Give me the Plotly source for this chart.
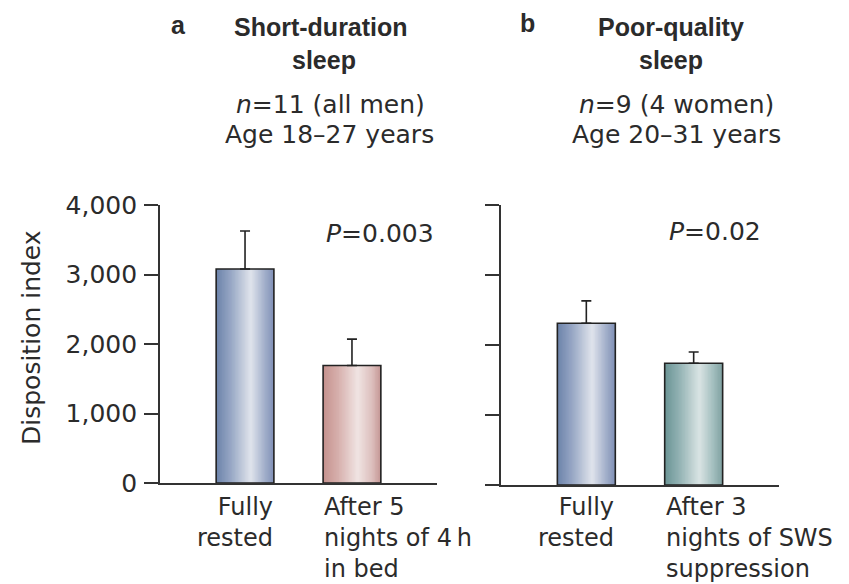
import plotly.graph_objects as go

# ---- data -------------------------------------------------------------
categories = [0, 1]

a_labels = ["Fully<br>rested", "After 5<br>nights of 4\u2009h<br>in bed"]
a_values = [3080, 1690]
a_errors = [545, 380]

b_labels = ["Fully<br>rested", "After 3<br>nights of SWS<br>suppression"]
b_values = [2310, 1740]
b_errors = [320, 160]

y_ticks = [0, 1000, 2000, 3000, 4000]

# ---- styling ----------------------------------------------------------
W, H = 849, 584
BAR_W = 0.54
N_SLICES = 40
TEXT = "#2b2b2b"
AXIS = "#333333"
FONT = "DejaVu Sans"
BOLD_FONT = "Liberation Sans"

# gradient stops (position across bar, colour) for each bar colour
BLUE = [(0.0, (108, 131, 170)), (0.25, (150, 166, 196)), (0.6, (224, 228, 236)),
        (0.85, (160, 173, 201)), (1.0, (128, 144, 182))]
PINK = [(0.0, (196, 145, 141)), (0.25, (214, 174, 171)), (0.6, (240, 228, 227)),
        (0.85, (220, 190, 188)), (1.0, (196, 150, 148))]
TEAL = [(0.0, (106, 148, 149)), (0.25, (146, 178, 179)), (0.6, (218, 228, 228)),
        (0.85, (160, 188, 188)), (1.0, (126, 160, 160))]


def px_x(p):
    return p / W


def px_y(p):
    return 1 - p / H


def grad(stops, t):
    for (t0, c0), (t1, c1) in zip(stops[:-1], stops[1:]):
        if t0 <= t <= t1:
            f = (t - t0) / (t1 - t0) if t1 > t0 else 0
            c = [round(a + (b - a) * f) for a, b in zip(c0, c1)]
            return "rgb({},{},{})".format(*c)
    c = stops[-1][1]
    return "rgb({},{},{})".format(*c)


fig = go.Figure()


def add_bar(cat, val, err, stops, xa, ya):
    # shaded fill: widest slice first, each narrower slice painted on top
    for i in range(N_SLICES - 1, -1, -1):
        t = (i + 0.5) / N_SLICES
        fig.add_trace(go.Bar(
            x=[cat], y=[val], xaxis=xa, yaxis=ya,
            offset=-BAR_W / 2, width=BAR_W * (i + 1) / N_SLICES,
            marker=dict(color=grad(stops, t), line=dict(width=0)),
            showlegend=False, hoverinfo="skip"))
    # outline + upper error bar
    fig.add_trace(go.Bar(
        x=[cat], y=[val], xaxis=xa, yaxis=ya,
        offset=-BAR_W / 2, width=BAR_W,
        marker=dict(color="rgba(0,0,0,0)", line=dict(color="#222222", width=1.6)),
        error_y=dict(type="data", array=[err], arrayminus=[0], symmetric=False,
                     color="#222222", thickness=1.6, width=5),
        showlegend=False, hoverinfo="skip"))


add_bar(categories[0], a_values[0], a_errors[0], BLUE, "x", "y")
add_bar(categories[1], a_values[1], a_errors[1], PINK, "x", "y")
add_bar(categories[0], b_values[0], b_errors[0], BLUE, "x2", "y2")
add_bar(categories[1], b_values[1], b_errors[1], TEAL, "x2", "y2")

xcommon = dict(range=[-0.795, 1.795], showgrid=False, zeroline=False,
               showline=True, linecolor=AXIS, linewidth=1.6, automargin=False,
               ticks="", showticklabels=False, fixedrange=True)
ycommon = dict(range=[0, 4000], tickvals=y_ticks, showgrid=False, zeroline=False,
               showline=True, linecolor=AXIS, linewidth=1.6, automargin=False,
               ticks="outside", ticklen=14, tickwidth=1.6, tickcolor=AXIS,
               fixedrange=True)

fig.update_layout(
    width=W, height=H,
    margin=dict(l=0, r=0, t=0, b=0, pad=0, autoexpand=False),
    paper_bgcolor="white", plot_bgcolor="white",
    barmode="overlay", showlegend=False,
    font=dict(family=FONT, size=25, color=TEXT),
    xaxis=dict(domain=[px_x(160), px_x(437)], anchor="y", **xcommon),
    yaxis=dict(domain=[px_y(483), px_y(205)], anchor="x",
               tickformat=",d", ticklabelstandoff=2,
               tickfont=dict(family=FONT, size=25, color=TEXT), **ycommon),
    xaxis2=dict(domain=[px_x(501), px_x(779)], anchor="y2", **xcommon),
    yaxis2=dict(domain=[px_y(485), px_y(205)], anchor="x2",
                showticklabels=False, **ycommon),
)

ann = []


def text(x, y, s, size=25, bold=False, xanchor="center", yanchor="middle",
         xref="paper", yref="paper", align="center", angle=0):
    ann.append(dict(
        x=x, y=y, xref=xref, yref=yref, text=s, showarrow=False,
        xanchor=xanchor, yanchor=yanchor, align=align, textangle=angle,
        borderpad=0,
        font=dict(family=BOLD_FONT if bold else FONT, size=size, color=TEXT),
    ))


# panel headers
text(px_x(178), px_y(25), "<b>a</b>", size=25, bold=True)
text(px_x(321), px_y(27), "<b>Short-duration</b>", bold=True)
text(px_x(324), px_y(60), "<b>sleep</b>", bold=True)
text(px_x(330), px_y(104), "<i>n</i>=11 (all men)")
text(px_x(329), px_y(134), "Age 18\u201327 years")

text(px_x(527), px_y(23), "<b>b</b>", size=25, bold=True)
text(px_x(671), px_y(27), "<b>Poor-quality</b>", bold=True)
text(px_x(671), px_y(60), "<b>sleep</b>", bold=True)
text(px_x(676), px_y(104), "<i>n</i>=9 (4 women)")
text(px_x(676), px_y(134), "Age 20\u201331 years")

# p-values
text(px_x(380), px_y(233), "<i>P</i>=0.003")
text(px_x(715), px_y(231), "<i>P</i>=0.02")

# y-axis title
text(px_x(31), px_y(338), "Disposition index", angle=-90)

# category labels under each bar
for xr, labels in (("x", a_labels), ("x2", b_labels)):
    text(categories[0] + BAR_W / 2, px_y(492), labels[0], xref=xr, size=24,
         xanchor="right", yanchor="top", align="right")
    text(categories[1] - BAR_W / 2, px_y(492), labels[1], xref=xr, size=24,
         xanchor="left", yanchor="top", align="left")

fig.update_layout(annotations=ann)

fig.write_html("out.html")
